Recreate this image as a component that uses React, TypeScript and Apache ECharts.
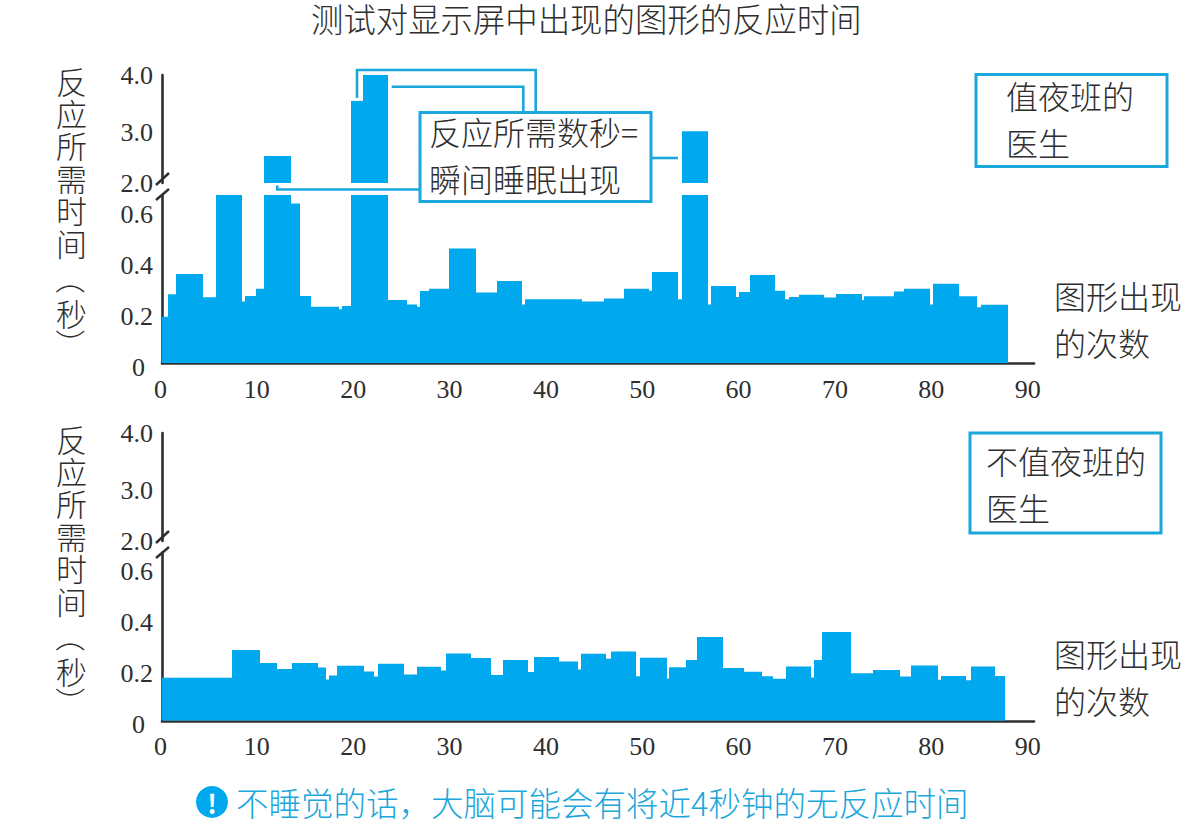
import React, { useEffect, useRef } from "react";
import * as echarts from "echarts";

const titleText = "测试对显示屏中出现的图形的反应时间";
const footerText = "不睡觉的话，大脑可能会有将近4秒钟的无反应时间";
const yNameMain = "反\n应\n所\n需\n时\n间";
const yNameUnit = "秒";
const xNameLines = ["图形出现", "的次数"];
const noteLines = ["反应所需数秒=", "瞬间睡眠出现"];

const nightEnds = [0.65, 1.45, 4.28, 5.6, 8.29, 8.6, 9.75, 10.57, 13.37, 14.31, 15.42, 18.35, 18.73, 19.59, 20.81, 23.5, 25.43, 26.47, 26.75, 27.71, 29.75, 32.55, 34.73, 37.35, 37.63, 43.57, 45.85, 47.9, 50.59, 50.83, 53.52, 53.98, 56.68, 56.99, 59.61, 59.92, 61.06, 63.65, 64.66, 65.03, 66.14, 68.73, 69.98, 72.64, 72.88, 75.99, 77.03, 79.69, 80.03, 82.73, 84.6, 84.98, 87.81];
const nightValues = [0.183, 0.271, 0.35, 0.259, 0.66, 0.242, 0.264, 0.292, 2.5, 0.627, 0.264, 0.222, 0.212, 0.225, 3.52, 4.0, 0.248, 0.231, 0.222, 0.284, 0.292, 0.45, 0.278, 0.323, 0.231, 0.251, 0.242, 0.254, 0.292, 0.285, 0.358, 0.251, 2.96, 0.231, 0.303, 0.26, 0.28, 0.346, 0.285, 0.251, 0.26, 0.269, 0.258, 0.272, 0.248, 0.263, 0.282, 0.292, 0.231, 0.312, 0.263, 0.22, 0.23];

const dayEnds = [7.26, 10.13, 11.92, 13.51, 16.17, 16.97, 17.31, 18.17, 20.94, 21.98, 22.39, 25.09, 26.51, 29.0, 29.47, 32.11, 34.11, 35.35, 37.97, 38.57, 41.16, 43.16, 43.47, 46.13, 46.65, 49.24, 49.63, 52.43, 52.66, 54.43, 55.49, 58.26, 60.41, 62.23, 63.37, 64.76, 67.31, 67.67, 68.53, 71.5, 73.78, 76.58, 77.78, 80.55, 80.86, 83.45, 83.93, 86.43, 87.46];
const dayValues = [0.169, 0.278, 0.227, 0.203, 0.227, 0.209, 0.162, 0.178, 0.216, 0.193, 0.174, 0.224, 0.182, 0.212, 0.197, 0.264, 0.246, 0.18, 0.238, 0.191, 0.25, 0.233, 0.201, 0.263, 0.243, 0.272, 0.175, 0.247, 0.166, 0.21, 0.238, 0.329, 0.207, 0.192, 0.175, 0.165, 0.213, 0.17, 0.238, 0.348, 0.186, 0.199, 0.174, 0.217, 0.161, 0.176, 0.159, 0.213, 0.176];

const BLUE = "#00a9ee";
const LINE_BLUE = "#1ba6dc";
const INK = "#2e2e2e";
const CJK = '"Noto Sans CJK SC", sans-serif';
const NUM = '"Liberation Serif", serif';
const LOWER_MAX = 0.66;

const toRows = (ends: number[], values: number[]) =>
  values.map((v, i) => [i === 0 ? 0 : ends[i - 1], ends[i], v]);

const renderRect = (base: number) => (_: any, api: any) => {
  const a = api.coord([api.value(0), api.value(2)]);
  const b = api.coord([api.value(1), base]);
  const x0 = Math.round(a[0]);
  const x1 = Math.round(b[0]);
  return {
    type: "rect",
    shape: { x: x0, y: a[1], width: x1 - x0, height: b[1] - a[1] },
    style: { fill: BLUE },
  };
};

const LEFT = 162;
const RIGHT = 1194 - 1034;
const grids = [
  { left: LEFT, right: RIGHT, top: 75, height: 108 },
  { left: LEFT, right: RIGHT, top: 195, height: 168.3 },
  { left: LEFT, right: RIGHT, top: 433, height: 108 },
  { left: LEFT, right: RIGHT, top: 552.5, height: 168.3 },
];

const axisLine = { show: true, onZero: false, lineStyle: { color: INK, width: 2.6 } };

const xAxisFor = (gridIndex: number, visible: boolean) => ({
  type: "value",
  gridIndex,
  min: 0,
  max: 90.5,
  interval: 10,
  show: visible,
  axisLine,
  axisTick: { show: false },
  splitLine: { show: false },
  axisLabel: {
    show: visible,
    showMaxLabel: false,
    margin: 13,
    padding: [0, 3, 0, 0],
    fontFamily: NUM,
    fontSize: 26,
    color: INK,
  },
});

const upperY = (gridIndex: number) => ({
  type: "value",
  gridIndex,
  min: 2,
  max: 4,
  interval: 1,
  axisLine,
  axisTick: { show: false },
  splitLine: { show: false },
  axisLabel: {
    margin: 9,
    fontFamily: NUM,
    fontSize: 26,
    color: INK,
    formatter: (v: number) => (v === 3 ? `{s|${v.toFixed(1)}}` : v.toFixed(1)),
    rich: { s: { padding: [6, 0, 0, 0], fontFamily: NUM, fontSize: 26, color: INK } },
  },
});

const lowerY = (gridIndex: number) => ({
  type: "value",
  gridIndex,
  min: 0,
  max: LOWER_MAX,
  interval: 0.2,
  axisLine,
  axisTick: { show: false },
  splitLine: { show: false },
  axisLabel: {
    margin: 9,
    showMaxLabel: false,
    padding: [8, 0, 0, 0],
    fontFamily: NUM,
    fontSize: 26,
    color: INK,
    formatter: (v: number) => (v === 0 ? "{z|0}" : v.toFixed(1)),
    rich: { z: { padding: [0, 8, 0, 0], fontFamily: NUM, fontSize: 26, color: INK } },
  },
});

const seriesFor = (rows: number[][], upperGrid: number, lowerGrid: number) => [
  {
    type: "custom",
    xAxisIndex: upperGrid,
    yAxisIndex: upperGrid,
    clip: true,
    renderItem: renderRect(2),
    encode: { x: [0, 1], y: 2 },
    data: rows.filter((r) => r[2] >= 2),
  },
  {
    type: "custom",
    xAxisIndex: lowerGrid,
    yAxisIndex: lowerGrid,
    clip: true,
    renderItem: renderRect(0),
    encode: { x: [0, 1], y: 2 },
    data: rows,
  },
];

const label = (text: string, x: number, y: number, extra: any = {}, rotation = 0) => ({
  type: "text",
  x,
  y,
  rotation,
  z: 20,
  style: {
    text,
    fontFamily: CJK,
    fontSize: 32,
    fontWeight: 300,
    fill: INK,
    verticalAlign: "middle",
    ...extra,
  },
});

const poly = (points: number[][]) => ({
  type: "polyline",
  z: 15,
  shape: { points },
  style: { stroke: LINE_BLUE, lineWidth: 2.6, fill: "none" },
});

const box = (x: number, y: number, width: number, height: number) => ({
  type: "rect",
  z: 16,
  shape: { x, y, width, height },
  style: { fill: "#fff", stroke: LINE_BLUE, lineWidth: 3 },
});

const slash = (x1: number, y1: number, x2: number, y2: number) => ({
  type: "line",
  z: 15,
  shape: { x1, y1, x2, y2 },
  style: { stroke: INK, lineWidth: 2.4 },
});

const panelGraphics = (dy: number) => [
  label(yNameMain, 56, 161 + dy, { lineHeight: 32.4, fontSize: 31 }),
  label("（", 72, 279 + dy, { fontSize: 30, align: "center" }, -Math.PI / 2),
  label(yNameUnit, 56, 312 + dy, { fontSize: 31 }),
  label("）", 72, 344 + dy, { fontSize: 30, align: "center" }, -Math.PI / 2),
  slash(156, 185 + dy, 169, 173 + dy),
  slash(156, 200 + dy, 169, 189 + dy),
  label(xNameLines[0], 1054, 295 + dy),
  label(xNameLines[1], 1054, 342 + dy),
];

export default function App() {
  const ref = useRef<HTMLDivElement>(null);
  useEffect(() => {
    const chart = echarts.init(ref.current!, undefined, { renderer: "svg" });
    chart.setOption({
      animation: false,
      backgroundColor: "#fff",
      title: {
        text: titleText,
        left: 311,
        top: 1,
        padding: 0,
        textStyle: { fontFamily: CJK, fontSize: 32.4, fontWeight: 300, color: INK },
      },
      grid: grids,
      xAxis: [xAxisFor(0, false), xAxisFor(1, true), xAxisFor(2, false), xAxisFor(3, true)],
      yAxis: [upperY(0), lowerY(1), upperY(2), lowerY(3)],
      series: [
        ...seriesFor(toRows(nightEnds, nightValues), 0, 1),
        ...seriesFor(toRows(dayEnds, dayValues), 2, 3),
      ],
      graphic: [
        ...panelGraphics(0),
        ...panelGraphics(358),
        poly([[357, 98], [357, 70], [535.7, 70], [535.7, 112]]),
        poly([[391.7, 86.7], [523.3, 86.7], [523.3, 112]]),
        poly([[277.3, 185.5], [277.3, 189.5], [419, 189.5]]),
        poly([[652, 158], [678, 158]]),
        box(420, 112.5, 231, 89),
        label(noteLines[0], 429, 131),
        label(noteLines[1], 429, 178),
        box(976, 74.5, 191, 92),
        label("值夜班的", 1006, 95),
        label("医生", 1006, 142),
        box(970, 433, 191, 100),
        label("不值夜班的", 986, 460),
        label("医生", 986, 507),
        { type: "circle", z: 15, shape: { cx: 212, cy: 802, r: 16 }, style: { fill: BLUE } },
        label("!", 212, 802, { fill: "#fff", fontSize: 26, fontWeight: "bold", align: "center" }),
        label(footerText, 236, 801, { fill: LINE_BLUE, fontSize: 32.5 }),
      ],
    });
    return () => chart.dispose();
  }, []);
  return (
    <div
      ref={ref}
      style={{ position: "absolute", left: 0, top: 0, width: 1194, height: 834, background: "#fff" }}
    />
  );
}
